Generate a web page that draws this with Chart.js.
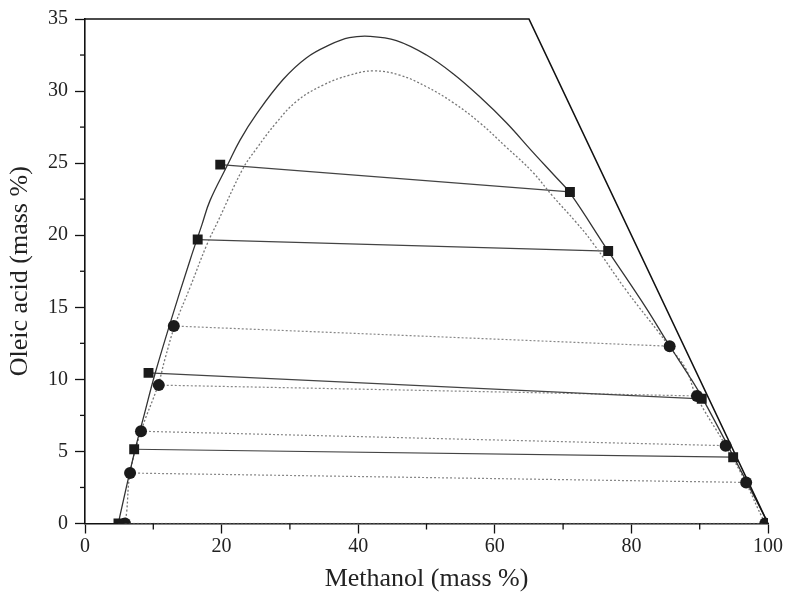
<!DOCTYPE html>
<html>
<head>
<meta charset="utf-8">
<script src="https://cdn.jsdelivr.net/npm/chart.js@4.4.0/dist/chart.umd.min.js"></script>
<style>
  html, body { margin: 0; padding: 0; background: #fff; }
</style>
</head>
<body>
<canvas id="chart" width="787" height="601"></canvas>
<script>
// binodal curve (solid)
const solidCurveX = [4.9, 5.1, 7.3, 8.7, 10.2, 12.4, 15.4, 17.1, 18.3, 20.9, 22.7, 25.1, 29.0, 32.4, 35.8, 38.7, 41.7, 45.6, 50.0, 53.9, 57.8, 61.7, 65.5, 69.0, 70.9, 76.6, 82.1, 85.5, 88.5, 90.4, 95.0, 99.7, 100];
const solidCurveY = [0, 0.5, 5.05, 7.6, 10.3, 13.8, 18.3, 20.7, 22.4, 24.9, 26.6, 28.4, 30.8, 32.3, 33.2, 33.7, 33.8, 33.5, 32.5, 31.2, 29.6, 27.8, 25.8, 24.0, 23.0, 18.9, 15.0, 12.4, 10.2, 8.7, 4.6, 0.3, 0];

// binodal curve (dotted)
const dottedCurveX = [5.85, 6.1, 6.6, 8.2, 10.7, 11.7, 13.2, 15.4, 17.8, 19.5, 23.1, 25.1, 28.0, 31.0, 34.8, 38.7, 42.2, 46.1, 50.0, 53.9, 57.8, 61.7, 65.5, 68.5, 71.9, 74.3, 79.2, 84.1, 85.5, 88.0, 89.5, 93.8, 96.7, 99.4, 100];
const dottedCurveY = [0, 0.8, 3.5, 6.4, 9.6, 11.4, 13.8, 16.4, 19.3, 21.0, 24.6, 26.0, 27.8, 29.3, 30.4, 31.1, 31.4, 31.1, 30.3, 29.2, 27.8, 26.1, 24.4, 22.7, 20.9, 19.5, 16.2, 13.2, 12.3, 10.7, 8.85, 5.4, 2.9, 0.2, 0];

// tie lines, squares (solid lines)
const squareLeftX = [19.8, 16.5, 9.3, 7.2, 4.9];
const squareLeftY = [24.9, 19.7, 10.45, 5.15, 0];
const squareRightX = [71.0, 76.6, 90.3, 94.9, 99.8];
const squareRightY = [23.0, 18.9, 8.65, 4.6, 0];

// tie lines, circles (dotted lines)
const circleLeftX = [13.0, 10.8, 8.2, 6.6, 5.85];
const circleLeftY = [13.7, 9.6, 6.4, 3.5, 0];
const circleRightX = [85.6, 89.6, 93.8, 96.8, 99.6];
const circleRightY = [12.3, 8.85, 5.4, 2.85, 0];

// triangle boundary (methanol + oleic acid = 100)
const boundaryX = [0, 65, 100];
const boundaryY = [35, 35, 0];

const xMinorTicks = [10, 30, 50, 70, 90];
const yMinorTicks = [2.5, 7.5, 12.5, 17.5, 22.5, 27.5, 32.5];

const toPoints = (xs, ys) => xs.map((x, i) => ({ x: x, y: ys[i] }));

const serif = "'Liberation Serif', 'DejaVu Serif', serif";

// Chart.js paints the first dataset last, so markers go first
const datasets = [];

datasets.push({
  data: toPoints(squareLeftX.concat(squareRightX), squareLeftY.concat(squareRightY)),
  showLine: false, pointStyle: "rect", pointRadius: 7,
  backgroundColor: "#1a1a1a", borderColor: "#1a1a1a", borderWidth: 0
});

datasets.push({
  data: toPoints(circleLeftX.concat(circleRightX), circleLeftY.concat(circleRightY)),
  showLine: false, pointStyle: "circle", pointRadius: 6,
  backgroundColor: "#1a1a1a", borderColor: "#1a1a1a", borderWidth: 0
});

datasets.push({
  data: toPoints(boundaryX, boundaryY),
  showLine: true, borderColor: "#111", borderWidth: 1.6,
  pointRadius: 0, clip: false
});

datasets.push({
  data: toPoints(solidCurveX, solidCurveY),
  showLine: true, borderColor: "#333", borderWidth: 1.3,
  pointRadius: 0, tension: 0.4
});

datasets.push({
  data: toPoints(dottedCurveX, dottedCurveY),
  showLine: true, borderColor: "#777", borderWidth: 1.3, borderDash: [2, 2],
  pointRadius: 0, tension: 0.4
});

squareLeftX.forEach((x, i) => {
  datasets.push({
    data: [{ x: x, y: squareLeftY[i] }, { x: squareRightX[i], y: squareRightY[i] }],
    showLine: true, borderColor: "#444", borderWidth: 1.2, pointRadius: 0
  });
});

circleLeftX.forEach((x, i) => {
  datasets.push({
    data: [{ x: x, y: circleLeftY[i] }, { x: circleRightX[i], y: circleRightY[i] }],
    showLine: true, borderColor: "#888", borderWidth: 1.2, borderDash: [2, 2], pointRadius: 0
  });
});

// short minor ticks, drawn through the scales
const minorTicks = {
  id: "minorTicks",
  afterDraw(chart) {
    const ctx = chart.ctx;
    const xs = chart.scales.x, ys = chart.scales.y;
    ctx.save();
    ctx.strokeStyle = "#111";
    ctx.lineWidth = 1.3;
    xMinorTicks.forEach(v => {
      const px = xs.getPixelForValue(v);
      ctx.beginPath();
      ctx.moveTo(px, xs.top);
      ctx.lineTo(px, xs.top + 6);
      ctx.stroke();
    });
    yMinorTicks.forEach(v => {
      const py = ys.getPixelForValue(v);
      ctx.beginPath();
      ctx.moveTo(ys.right, py);
      ctx.lineTo(ys.right - 5, py);
      ctx.stroke();
    });
    ctx.restore();
  }
};

new Chart(document.getElementById("chart"), {
  type: "scatter",
  data: { datasets: datasets },
  options: {
    responsive: false,
    animation: false,
    layout: { padding: { top: 14, right: 19, left: 2, bottom: 0 } },
    plugins: { legend: { display: false }, tooltip: { enabled: false } },
    scales: {
      x: {
        type: "linear", min: 0, max: 100,
        afterFit(scale) { scale.height = 77.5; },
        ticks: { stepSize: 20, color: "#222", padding: 1, font: { family: serif, size: 20 } },
        grid: { drawOnChartArea: false, tickLength: 10, color: "#111", tickWidth: 1.3 },
        border: { display: true, color: "#111", width: 1.6 },
        title: { display: true, text: "Methanol (mass %)", color: "#222",
                 font: { family: serif, size: 26 }, padding: { top: 2, bottom: 6 } }
      },
      y: {
        type: "linear", min: 0, max: 35,
        afterFit(scale) { scale.width = 83; },
        ticks: { stepSize: 5, color: "#222", padding: 7, font: { family: serif, size: 20 } },
        grid: { drawOnChartArea: false, tickLength: 10, color: "#111", tickWidth: 1.3 },
        border: { display: true, color: "#111", width: 1.6 },
        title: { display: true, text: "Oleic acid (mass %)", color: "#222",
                 font: { family: serif, size: 26 }, padding: { top: 3, bottom: 4 } }
      }
    }
  },
  plugins: [minorTicks]
});
</script>
</body>
</html>
